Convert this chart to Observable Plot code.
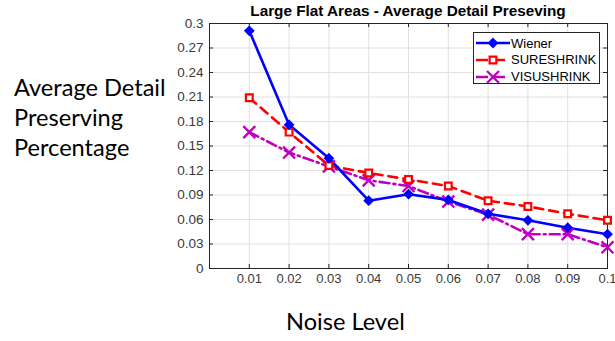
<!DOCTYPE html>
<html>
<head>
<meta charset="utf-8">
<script src="https://cdn.jsdelivr.net/npm/d3@7"></script>
<script src="https://cdn.jsdelivr.net/npm/@observablehq/plot@0.6"></script>
<style>
  html, body { margin: 0; padding: 0; background: #fff; }
  #wrap { position: relative; width: 615px; height: 341px; overflow: hidden; }
  #chart { position: absolute; left: 0; top: 0; }
  .title { position: absolute; left: 208px; width: 400px; top: 2px; text-align: center;
           font: bold 15.3px "Liberation Sans", Arial, sans-serif; color: #000; white-space: nowrap; }
  .ylab { position: absolute; left: 14px; top: 72px; font: 23.6px Lato, sans-serif; line-height: 30px; color: #000; white-space: nowrap; }
  .xlab { position: absolute; left: 286px; top: 307px; font: 23.6px Lato, sans-serif; color: #000; white-space: nowrap; }
  .legend { position: absolute; left: 473px; top: 32px; width: 127px; height: 52px; border: 1px solid #262626;
            background: #fff; box-sizing: border-box; }
  .legend .row { position: absolute; left: 0; height: 16px; display: flex; align-items: center;
                 font: 13px "Liberation Sans", Arial, sans-serif; color: #000; white-space: nowrap; }
  .legend svg { display: block; margin-left: 2px; margin-right: 1px; }
</style>
</head>
<body>
<div id="wrap">
  <div id="chart"></div>
  <div class="title">Large Flat Areas - Average Detail Preseving</div>
  <div class="ylab">Average Detail<br>Preserving<br>Percentage</div>
  <div class="xlab">Noise Level</div>
  <div class="legend" id="legend"></div>
</div>
<script>
const noiseLevels = [0.01, 0.02, 0.03, 0.04, 0.05, 0.06, 0.07, 0.08, 0.09, 0.1];
const wiener     = [0.291, 0.176, 0.135, 0.083, 0.091, 0.084, 0.067, 0.059, 0.050, 0.042];
const sureshrink = [0.209, 0.167, 0.126, 0.117, 0.109, 0.101, 0.083, 0.076, 0.067, 0.059];
const visushrink = [0.167, 0.142, 0.125, 0.108, 0.101, 0.082, 0.066, 0.042, 0.042, 0.026];
const seriesNames = ["Wiener", "SURESHRINK", "VISUSHRINK"];
const xTicks = [0.01, 0.02, 0.03, 0.04, 0.05, 0.06, 0.07, 0.08, 0.09, 0.1];
const yTicks = [0, 0.03, 0.06, 0.09, 0.12, 0.15, 0.18, 0.21, 0.24, 0.27, 0.3];

const W = 615, H = 341, mL = 209, mR = 8, mT = 23, mB = 73;
const pw = W - mL - mR, ph = H - mT - mB;

const styles = {
  Wiener:     {color: "#0000ff", dash: null,       symbol: "diamond2", fill: "#0000ff", r: 3.9, sw: 1.5},
  SURESHRINK: {color: "#ff0000", dash: "9,6",      symbol: "square",   fill: "#ffffff", r: 3.8, sw: 2.2},
  VISUSHRINK: {color: "#c000c0", dash: "10,4,2,4", symbol: "times",    fill: "none",    r: 5.5, sw: 2.4}
};
const values = {Wiener: wiener, SURESHRINK: sureshrink, VISUSHRINK: visushrink};
const data = seriesNames.map(n => noiseLevels.map((x, i) => ({x, y: values[n][i], s: n})));

const marks = [
  Plot.gridX(xTicks, {stroke: "#e0e0e0", strokeOpacity: 1, strokeWidth: 1}),
  Plot.gridY(yTicks, {stroke: "#e0e0e0", strokeOpacity: 1, strokeWidth: 1}),
  Plot.axisX({ticks: xTicks, tickSize: 0, tickPadding: 5, tickFormat: d3.format("~g"), label: null,
              fontSize: 13, fill: "#3a3a3a"}),
  Plot.axisY({ticks: yTicks, tickSize: 0, tickPadding: 6, tickFormat: d3.format("~g"), label: null,
              fontSize: 13.5, fill: "#3a3a3a"}),
  Plot.tickY(yTicks, {y: d => d, insetRight: pw - 4, stroke: "#262626"}),
  Plot.tickY(yTicks, {y: d => d, insetLeft: pw - 4, stroke: "#262626"}),
  Plot.tickX(xTicks, {x: d => d, insetTop: ph - 4, stroke: "#262626"}),
  Plot.tickX(xTicks, {x: d => d, insetBottom: ph - 4, stroke: "#262626"}),
  Plot.frame({stroke: "#262626", strokeWidth: 1})
];
seriesNames.slice().reverse().forEach(n => {
  const st = styles[n];
  const d = data[seriesNames.indexOf(n)];
  marks.push(Plot.line(d, {x: "x", y: "y", stroke: st.color, strokeWidth: 2.6, strokeDasharray: st.dash}));
});
seriesNames.slice().reverse().forEach(n => {
  const st = styles[n];
  const d = data[seriesNames.indexOf(n)];
  marks.push(Plot.dot(d, {x: "x", y: "y", symbol: st.symbol, r: st.r, stroke: st.color,
    strokeWidth: st.sw, fill: st.fill}));
});

const chart = Plot.plot({
  width: W, height: H,
  marginLeft: mL, marginRight: mR, marginTop: mT, marginBottom: mB,
  style: {fontFamily: "'Liberation Sans', Arial, sans-serif", fontSize: "13px", background: "white"},
  x: {domain: [0, 0.1]},
  y: {domain: [0, 0.3]},
  marks
});
document.getElementById("chart").appendChild(chart);

// legend
const legend = document.getElementById("legend");
const rowTops = [2, 18.7, 35.5];
const symMap = {diamond2: d3.symbolDiamond2, square: d3.symbolSquare, times: d3.symbolTimes};
seriesNames.forEach((n, i) => {
  const st = styles[n];
  const row = document.createElement("div");
  row.className = "row";
  row.style.top = rowTops[i] + "px";
  const svg = d3.create("svg").attr("width", 34).attr("height", 16);
  svg.append("line").attr("x1", 0).attr("x2", 34).attr("y1", 8).attr("y2", 8)
    .attr("stroke", st.color).attr("stroke-width", 2.6)
    .attr("stroke-dasharray", st.dash ? "12,5,12" : null);
  const size = Math.PI * st.r * st.r;
  svg.append("path").attr("d", d3.symbol(symMap[st.symbol], size)()).attr("transform", "translate(17,8)")
    .attr("fill", st.fill).attr("stroke", st.color).attr("stroke-width", st.sw);
  row.appendChild(svg.node());
  const span = document.createElement("span");
  span.textContent = n;
  row.appendChild(span);
  legend.appendChild(row);
});
</script>
</body>
</html>
